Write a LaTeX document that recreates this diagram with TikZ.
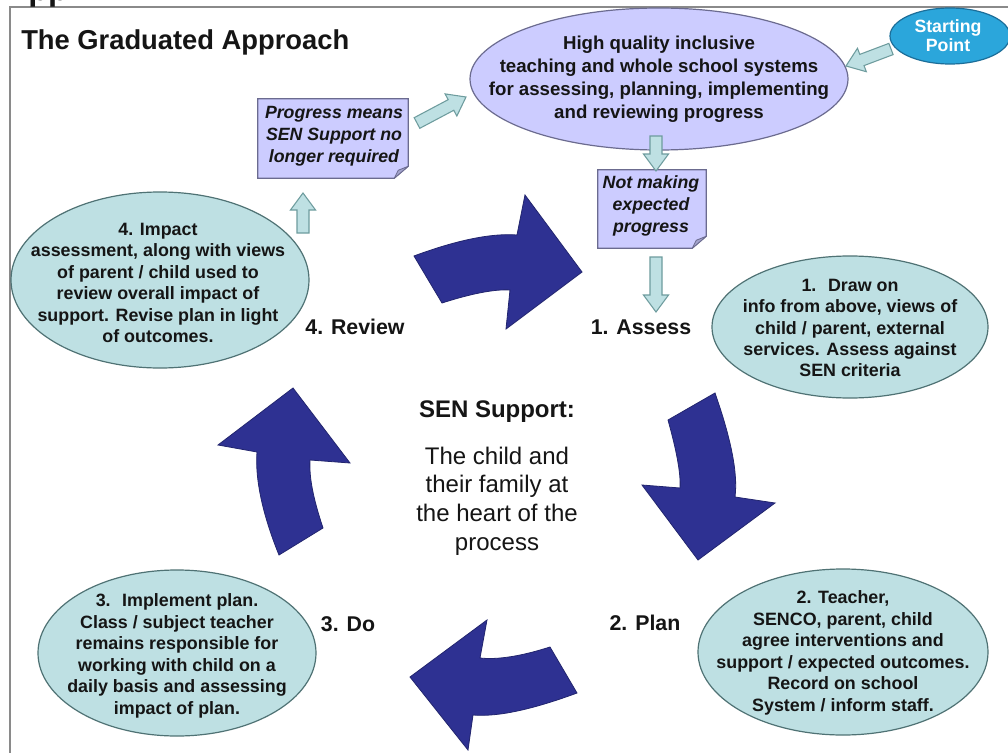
\documentclass[tikz,border=0pt]{standalone}
\usepackage{fontspec}
\setmainfont{Liberation Sans}
\usetikzlibrary{shapes.geometric,calc}
\definecolor{lav}{HTML}{CCCCFF}
\definecolor{lavline}{HTML}{6B6B8F}
\definecolor{lavfold}{HTML}{A3A3CC}
\definecolor{tealfill}{HTML}{BEE0E3}
\definecolor{tealline}{HTML}{4F7274}
\definecolor{tealarrline}{HTML}{6E9C9E}
\definecolor{navyarr}{HTML}{2E3192}
\definecolor{navyline}{HTML}{22256E}
\definecolor{startblue}{HTML}{2BA6DB}
\definecolor{startline}{HTML}{1B6E99}
\definecolor{framegray}{HTML}{8A8A8A}
\definecolor{inktext}{HTML}{151515}

\newcommand{\blockarr}[2]{%
  \coordinate (bah) at ($(#2)!12.75pt!(#1)$);
  \filldraw[tealarr] ($(#1)!4.5pt!90:(#2)$) -- ($(bah)!4.5pt!90:(#2)$) -- ($(bah)!9.4pt!90:(#2)$) -- (#2) -- ($(bah)!9.4pt!-90:(#2)$) -- ($(bah)!4.5pt!-90:(#2)$) -- ($(#1)!4.5pt!-90:(#2)$) -- cycle;}

\begin{document}
\begin{tikzpicture}[x=0.75pt,y=-0.75pt,
  tealell/.style={ellipse, draw=tealline, line width=0.9pt, fill=tealfill, inner sep=0pt},
  lavell/.style={ellipse, draw=lavline, line width=0.9pt, fill=lav, inner sep=0pt},
  etxt/.style={align=center, inner sep=0pt, text=inktext, font=\fontsize{13.4}{16.1}\selectfont\bfseries},
  toptxt/.style={align=center, inner sep=0pt, text=inktext, font=\fontsize{14}{17.25}\selectfont\bfseries},
  notetxt/.style={align=center, inner sep=0pt, text=inktext, font=\fontsize{13.3}{16.5}\selectfont\bfseries\itshape},
  notebox/.style={rectangle, inner sep=0pt},
  notefill/.style={fill=lav, draw=lavline, line width=0.8pt},
  foldfill/.style={fill=lavfold, draw=lavline, line width=0.6pt, line join=round},
  steplabel/.style={inner sep=0pt, text=inktext, font=\fontsize{16}{19}\selectfont\bfseries},
  tealarr/.style={fill=tealfill, draw=tealarrline, line width=0.8pt},
  bigarr/.style={fill=navyarr, draw=navyline, line width=0.6pt}
]
\useasboundingbox (0,0) rectangle (1008,753);
\fill[white] (0,0) rectangle (1008,753);
\draw[framegray, line width=1.4pt] (10,753) -- (10,7) -- (1008,7);

% clipped fragment at the top
\node[anchor=base west, inner sep=0pt, text=inktext, font=\fontsize{24.5}{28}\selectfont\bfseries] (frag) at (28,1) {pp};

% title
\node[anchor=west, inner sep=0pt, text=inktext, font=\fontsize{20.5}{24}\selectfont\bfseries] (title) at (21,42) {The Graduated Approach};

% top ellipse
\node[lavell, minimum width=283.5pt, minimum height=106.5pt] (top) at (659,79) {};
\node[toptxt] (topt) at (659,79) {High quality inclusive\\teaching and whole school systems\\for assessing, planning, implementing\\and reviewing progress};

% starting point
\node[ellipse, draw=startline, line width=0.9pt, fill=startblue, inner sep=0pt, minimum width=90pt, minimum height=42pt] (sp) at (950,36) {};
\node[align=center, inner sep=0pt, text=white, font=\fontsize{13.3}{14.25}\selectfont\bfseries] (spt) at (948,36) {Starting\\Point};

% note: progress means...
\node[notebox, minimum width=112.5pt, minimum height=59.25pt] (prog) at (333,138.5) {};
\path[notefill] (prog.north west) -- (prog.north east) -- ($(prog.south east)+(0,-12)$) -- ($(prog.south east)+(-14,0)$) -- (prog.south west) -- cycle;
\path[foldfill] ($(prog.south east)+(0,-12)$) -- ($(prog.south east)+(-14,0)$) -- ($(prog.south east)+(-10,-8)$) -- cycle;
\node[notetxt] (progt) at (334,136) {Progress means\\SEN Support no\\longer required};

% note: not making expected progress
\node[notebox, minimum width=81pt, minimum height=58.5pt] (nm) at (652,209) {};
\path[notefill] (nm.north west) -- (nm.north east) -- ($(nm.south east)+(0,-12)$) -- ($(nm.south east)+(-14,0)$) -- (nm.south west) -- cycle;
\path[foldfill] ($(nm.south east)+(0,-12)$) -- ($(nm.south east)+(-14,0)$) -- ($(nm.south east)+(-10,-8)$) -- cycle;
\node[notetxt] (nmt) at (651,206) {Not making\\expected\\progress};

% step ellipses
\node[tealell, minimum width=207pt, minimum height=106.5pt] (e1) at (850,327) {};
\node[etxt] (e1t) at (850,328) {1.~ Draw on\\info from above, views of\\child / parent, external\\services. Assess against\\SEN criteria};

\node[tealell, minimum width=217.5pt, minimum height=124.5pt] (e2) at (843,652) {};
\node[etxt] (e2t) at (843,653) {2. Teacher,\\SENCO, parent, child\\agree interventions and\\support / expected outcomes.\\Record on school\\System / inform staff.};

\node[tealell, minimum width=208.5pt, minimum height=124.5pt] (e3) at (177,653) {};
\node[etxt] (e3t) at (177,656) {3.~ Implement plan.\\Class / subject teacher\\remains responsible for\\working with child on a\\daily basis and assessing\\impact of plan.};

\node[tealell, minimum width=223.5pt, minimum height=132pt] (e4) at (160,280) {};
\node[etxt] (e4t) at (158,283) {4. Impact\\assessment, along with views\\of parent / child used to\\review overall impact of\\support. Revise plan in light\\of outcomes.};

% step labels
\node[steplabel] (assess) at (641,327) {1. Assess};
\node[steplabel] (plan) at (645,623) {2. Plan};
\node[steplabel] (do) at (348,624) {3. Do};
\node[steplabel] (review) at (355,327) {4. Review};

% centre text
\node[inner sep=0pt, text=inktext, font=\fontsize{18}{21.4}\selectfont\bfseries] (sen) at (497,412) {SEN Support:};
\node[align=center, inner sep=0pt, text=inktext, font=\fontsize{18}{21.4}\selectfont] (heart) at (497,501) {The child and\\their family at\\the heart of the\\process};

% light block arrows
\coordinate (a1s) at (891,49);
\coordinate (a1e) at (846,66);
\coordinate (a2s) at (417,123);
\coordinate (a2e) at (466,97);
\coordinate (a3s) at (303,233);
\coordinate (a3e) at (303,193);
\coordinate (a4s) at (656,136);
\coordinate (a4e) at (656,171);
\coordinate (a5s) at (656,257);
\coordinate (a5e) at (656,312);
\blockarr{a1s}{a1e}
\blockarr{a2s}{a2e}
\blockarr{a3s}{a3e}
\blockarr{a4s}{a4e}
\blockarr{a5s}{a5e}

% big curved arrows of the cycle
\filldraw[bigarr] (414,256) .. controls (457,240) and (492,233) .. (517,235) -- (525,195) -- (582,272) -- (506,329) -- (510,290) .. controls (496,289) and (473,293) .. (442,303) -- cycle;
\filldraw[bigarr] (715,393) .. controls (731,439) and (738,473) .. (735,497) -- (775,503) -- (698,560) -- (642,485) -- (680,488) .. controls (681,475) and (677,452) .. (668,420) -- cycle;
\filldraw[bigarr] (577,693) .. controls (531,710) and (497,717) .. (473,715) -- (468,750) -- (410,677) -- (487,620) -- (480,658) .. controls (498,660) and (522,656) .. (550,647) -- cycle;
\filldraw[bigarr] (279,555) .. controls (262,513) and (255,478) .. (257,452) -- (218,445) -- (293,388) -- (350,463) -- (310,460) .. controls (309,477) and (313,498) .. (323,528) -- cycle;
\end{tikzpicture}
\end{document}
